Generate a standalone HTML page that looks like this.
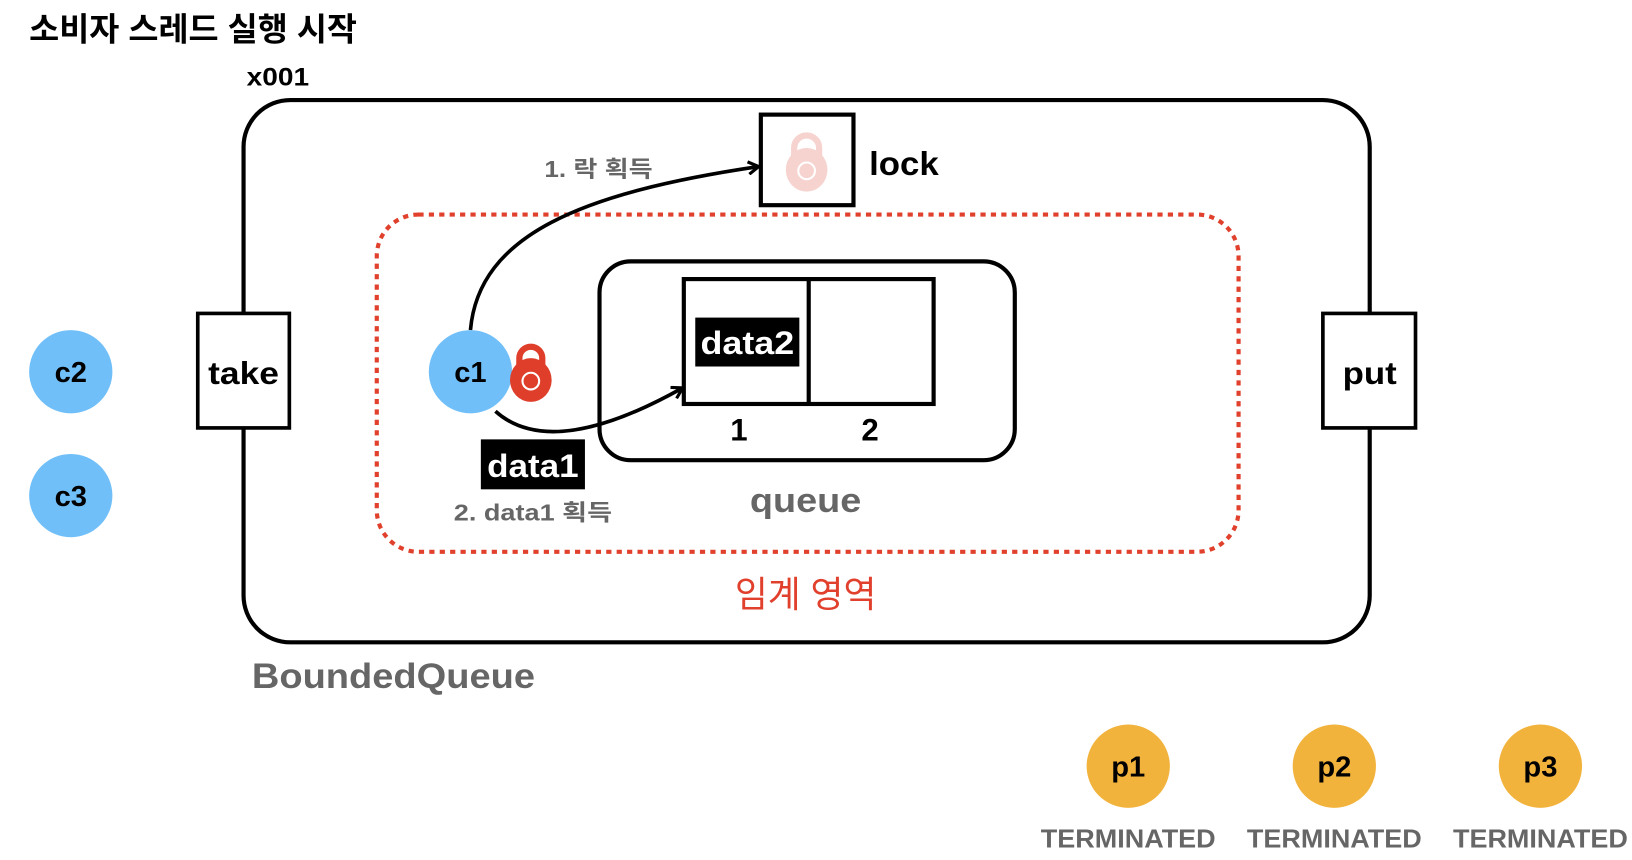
<!DOCTYPE html>
<html><head><meta charset="utf-8"><style>
html,body{margin:0;padding:0;background:#fff;}
svg{display:block;}
text{font-family:"Liberation Sans","Noto Sans CJK KR",sans-serif;}
</style></head><body>
<svg width="1632" height="860" viewBox="0 0 1568 826" xmlns="http://www.w3.org/2000/svg">
<defs>
<marker id="ah" markerWidth="14" markerHeight="14" refX="11" refY="7" orient="auto" markerUnits="userSpaceOnUse">
<path d="M2,1 L12,7 L2,13" fill="none" stroke="#000" stroke-width="3"/>
</marker>
</defs>
<text x="28" y="39" font-size="31" font-weight="bold" textLength="315" lengthAdjust="spacingAndGlyphs">소비자 스레드 실행 시작</text>
<text x="237" y="82" font-size="24" font-weight="bold" textLength="60" lengthAdjust="spacingAndGlyphs">x001</text>
<rect x="234" y="96" width="1082" height="521" rx="45" fill="none" stroke="#000" stroke-width="4"/>
<rect x="362" y="206" width="828" height="324" rx="40" fill="none" stroke="#e0402c" stroke-width="4" stroke-dasharray="5,5"/>
<rect x="190" y="301" width="88" height="110" fill="#fff" stroke="#000" stroke-width="3.5"/>
<text x="234" y="369" font-size="30" font-weight="bold" text-anchor="middle" textLength="68" lengthAdjust="spacingAndGlyphs">take</text>
<rect x="1271" y="301" width="89" height="110" fill="#fff" stroke="#000" stroke-width="3.5"/>
<text x="1316" y="369" font-size="30" font-weight="bold" text-anchor="middle" textLength="52" lengthAdjust="spacingAndGlyphs">put</text>
<circle cx="68" cy="357" r="40" fill="#70bff9"/>
<text x="68" y="367" font-size="28" font-weight="bold" text-anchor="middle">c2</text>
<circle cx="68" cy="476" r="40" fill="#70bff9"/>
<text x="68" y="486" font-size="28" font-weight="bold" text-anchor="middle">c3</text>
<rect x="731" y="110" width="89" height="87" fill="#fff" stroke="#000" stroke-width="4"/>
<path d="M763,152 v-10 a12,12 0 0 1 24,0 v10" fill="none" stroke="#f6d3cf" stroke-width="6"/>
<ellipse cx="775" cy="163" rx="20" ry="21" fill="#f6d3cf"/>
<circle cx="775" cy="164" r="8" fill="none" stroke="#fff" stroke-width="2"/>
<text x="835" y="168" font-size="32" font-weight="bold" textLength="67" lengthAdjust="spacingAndGlyphs">lock</text>
<rect x="576" y="251" width="399" height="191" rx="30" fill="none" stroke="#000" stroke-width="4"/>
<rect x="657" y="268" width="240" height="120" fill="none" stroke="#000" stroke-width="4"/>
<line x1="777" y1="268" x2="777" y2="388" stroke="#000" stroke-width="4"/>
<rect x="668" y="305" width="100" height="47" fill="#000"/>
<text x="718" y="340" font-size="31" font-weight="bold" fill="#fff" text-anchor="middle" textLength="90" lengthAdjust="spacingAndGlyphs">data2</text>
<text x="710" y="423" font-size="30" font-weight="bold" text-anchor="middle">1</text>
<text x="836" y="423" font-size="30" font-weight="bold" text-anchor="middle">2</text>
<text x="774" y="492" font-size="33" font-weight="bold" fill="#666" text-anchor="middle" textLength="107" lengthAdjust="spacingAndGlyphs">queue</text>
<path d="M452,317 C460,225 560,185 728,160" fill="none" stroke="#000" stroke-width="3.5" marker-end="url(#ah)"/>
<path d="M476,395 C515,430 580,415 655,373" fill="none" stroke="#000" stroke-width="3.5" marker-end="url(#ah)"/>
<circle cx="452" cy="357" r="40" fill="#70bff9"/>
<text x="452" y="367" font-size="28" font-weight="bold" text-anchor="middle">c1</text>
<path d="M499,354 v-10 a11,11 0 0 1 22,0 v10" fill="none" stroke="#de3e2a" stroke-width="6"/>
<ellipse cx="510" cy="365" rx="20" ry="21" fill="#de3e2a"/>
<circle cx="510" cy="366" r="8" fill="none" stroke="#fff" stroke-width="2"/>
<text x="523" y="170" font-size="22" font-weight="bold" fill="#666" textLength="104" lengthAdjust="spacingAndGlyphs">1. 락 획득</text>
<rect x="462" y="422" width="100" height="48" fill="#000"/>
<text x="512" y="458" font-size="31" font-weight="bold" fill="#fff" text-anchor="middle" textLength="88" lengthAdjust="spacingAndGlyphs">data1</text>
<text x="436" y="500" font-size="22" font-weight="bold" fill="#666" textLength="152" lengthAdjust="spacingAndGlyphs">2. data1 획득</text>
<text x="774" y="583" font-size="35" fill="#e0402c" text-anchor="middle" textLength="136" lengthAdjust="spacingAndGlyphs">임계 영역</text>
<text x="242" y="661" font-size="34" font-weight="bold" fill="#666" textLength="272" lengthAdjust="spacingAndGlyphs">BoundedQueue</text>
<g font-size="28" font-weight="bold" text-anchor="middle">
<circle cx="1084" cy="736" r="40" fill="#f2b33d"/><text x="1084" y="746">p1</text>
<circle cx="1282" cy="736" r="40" fill="#f2b33d"/><text x="1282" y="746">p2</text>
<circle cx="1480" cy="736" r="40" fill="#f2b33d"/><text x="1480" y="746">p3</text>
</g>
<g font-size="25" font-weight="bold" fill="#666" text-anchor="middle">
<text x="1084" y="814" textLength="168" lengthAdjust="spacingAndGlyphs">TERMINATED</text>
<text x="1282" y="814" textLength="168" lengthAdjust="spacingAndGlyphs">TERMINATED</text>
<text x="1480" y="814" textLength="168" lengthAdjust="spacingAndGlyphs">TERMINATED</text>
</g>
</svg>
</body></html>
